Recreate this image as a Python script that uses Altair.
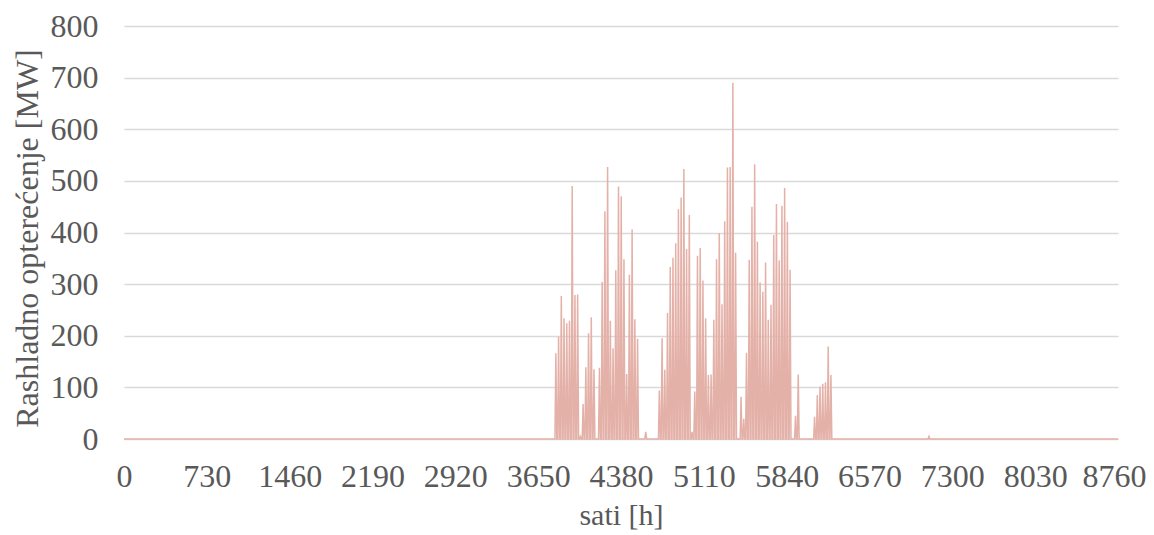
import altair as alt
import pandas as pd

# Day-of-year indices with non-zero cooling load and the daily peak [MW]
days = [158, 159, 160, 161, 162, 163, 164, 165, 166, 167, 168, 169, 170, 171, 172,
        174, 175, 176, 177, 178, 179, 180, 181, 182, 183, 184, 185, 186, 187, 188,
        191,
        196, 197, 198, 199, 200, 201, 202, 203, 204, 205, 206, 207, 208, 209, 210,
        211, 212, 213, 214, 215, 216, 217, 218, 219, 220, 221, 222, 223, 224,
        226, 227, 228, 229, 230, 231, 232, 233, 234, 235, 236, 237, 238, 239, 240,
        241, 242, 243, 244,
        246, 247,
        253, 254, 255, 256, 257, 258, 259,
        295]
peaks = [166, 198, 277, 234, 224, 229, 490, 279, 280, 5, 68, 139, 205, 236, 135,
         138, 304, 441, 527, 229, 176, 327, 489, 470, 348, 126, 318, 406, 232, 194,
         14,
         94, 195, 134, 244, 333, 351, 379, 445, 468, 523, 368, 434, 14, 92, 355,
         370, 307, 234, 124, 125, 231, 348, 399, 261, 422, 526, 527, 690, 361,
         82, 39, 167, 347, 450, 532, 382, 303, 285, 342, 231, 260, 395, 455, 346,
         452, 486, 421, 328,
         45, 125,
         43, 85, 101, 107, 110, 179, 124,
         5]

x_ticks = [0, 730, 1460, 2190, 2920, 3650, 4380, 5110, 5840, 6570, 7300, 8030, 8760]
y_ticks = [0, 100, 200, 300, 400, 500, 600, 700, 800]

# hourly profile: zero at night, daily peak in the afternoon
hours = [0]
loads = [0]
for d, p in zip(days, peaks):
    hours += [d * 24 + 6, d * 24 + 14, d * 24 + 22]
    loads += [0, p, 0]
hours.append(8760)
loads.append(0)
df = pd.DataFrame({"sat": hours, "opterecenje": loads})

FONT = "Liberation Serif"
TXT = "#595959"

chart = alt.Chart(df).mark_line(color="#E4B1A8", strokeWidth=1.5).encode(
    x=alt.X("sat:Q", title="sati [h]",
            scale=alt.Scale(domain=[0, 8760], nice=False, zero=False),
            axis=alt.Axis(values=x_ticks, grid=False, ticks=False, domain=True,
                          domainColor="#d9d9d9", labelPadding=22,
                          labelOffset={"condition": {"test": "datum.value == 8760", "value": -4},
                                       "value": 0},
                          titleFontSize=30, titlePadding=8,
                          labelFlush=False, labelOverlap=False, format="d")),
    y=alt.Y("opterecenje:Q", title="Rashladno opterećenje [MW]",
            scale=alt.Scale(domain=[0, 800], nice=False),
            axis=alt.Axis(values=y_ticks, grid=True, ticks=False, domain=False,
                          titleFontSize=32, labelPadding=26, titlePadding=6,
                          titleY=212, format="d")),
).properties(
    width=994, height=413,
    autosize=alt.AutoSizeParams(type="none"),
    padding={"left": 116, "top": 18, "right": 28, "bottom": 96},
).configure_view(stroke=None).configure_axis(
    labelFont=FONT, titleFont=FONT, labelFontSize=32,
    labelColor=TXT, titleColor=TXT, titleFontWeight="normal",
    gridColor="#d9d9d9", gridWidth=1.5,
)

chart.save("out.html", embed_options={"renderer": "svg", "actions": False})
